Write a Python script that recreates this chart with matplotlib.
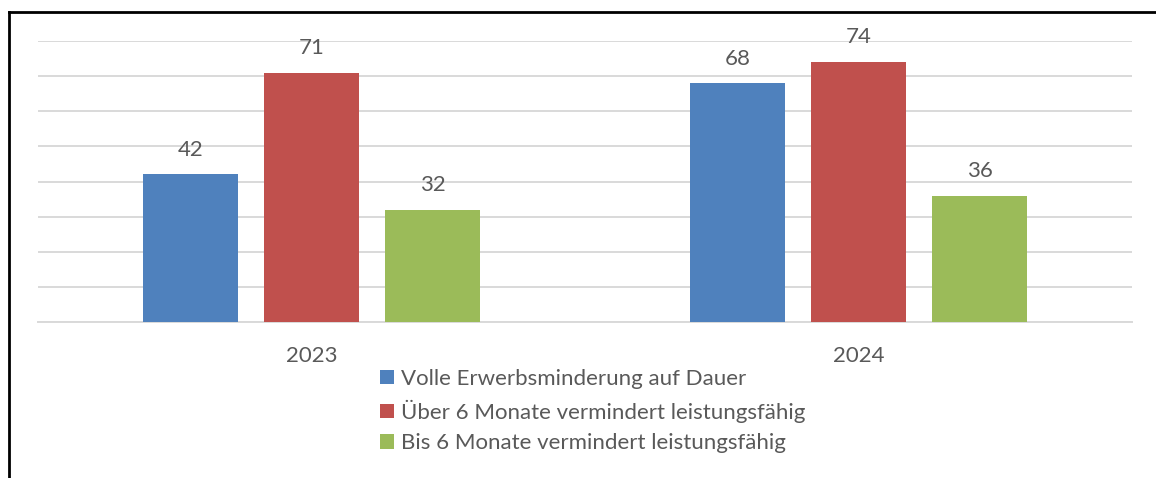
import numpy as np
import matplotlib.pyplot as plt
from matplotlib.lines import Line2D

years = ['2023', '2024']
series_names = ['Volle Erwerbsminderung auf Dauer',
                'Über 6 Monate vermindert leistungsfähig',
                'Bis 6 Monate vermindert leistungsfähig']
volle = [42, 68]
ueber6 = [71, 74]
bis6 = [32, 36]
colors = ['#4F81BD', '#C0504D', '#9BBB59']

plt.rcParams['font.family'] = ['Lato', 'DejaVu Sans']
text_color = '#595959'

fig = plt.figure(figsize=(11.56, 4.78), dpi=100)
ax = fig.add_axes([38 / 1156, 156 / 478, 1094 / 1156, 281 / 478])

x = np.arange(len(years))
width = 95 / 547
step = 121 / 547
for i, (vals, name, col) in enumerate(zip([volle, ueber6, bis6], series_names, colors)):
    pos = x + (i - 1) * step
    bars = ax.bar(pos, vals, width=width, color=col, label=name, zorder=3)
    for b, v in zip(bars, vals):
        ax.annotate(str(v), (b.get_x() + b.get_width() / 2, v),
                    xytext=(0, 10.5), textcoords='offset points',
                    ha='center', va='bottom', fontsize=16, color=text_color)

ax.set_xlim(-0.5, 1.5)
ax.set_ylim(0, 80)
ax.set_yticks(np.arange(0, 81, 10))
ax.yaxis.grid(True, color='#D9D9D9', linewidth=1.4, zorder=0)
ax.tick_params(axis='y', left=False, labelleft=False)
ax.set_xticks(x)
ax.set_xticklabels(years, fontsize=16, color=text_color)
ax.tick_params(axis='x', length=0, pad=17)
for s in ['top', 'right', 'left']:
    ax.spines[s].set_visible(False)
ax.spines['bottom'].set_color('#D9D9D9')
ax.spines['bottom'].set_linewidth(1.4)

leg = fig.legend(loc='upper left', bbox_to_anchor=(380 / 1156, 1 - 369 / 478),
                 frameon=False, fontsize=16, handlelength=0.63, handleheight=0.63,
                 handletextpad=0.32, labelspacing=0.48, borderpad=0, borderaxespad=0)
for t in leg.get_texts():
    t.set_color(text_color)

# outer frame (left and top edges only)
fig.add_artist(Line2D([8.5 / 1156, 8.5 / 1156], [0, 1 - 11.5 / 478], color='black', lw=2,
                      transform=fig.transFigure))
fig.add_artist(Line2D([8.5 / 1156, 1], [1 - 11.5 / 478, 1 - 11.5 / 478], color='black', lw=2,
                      transform=fig.transFigure))

fig.savefig('out.png', dpi=100)
